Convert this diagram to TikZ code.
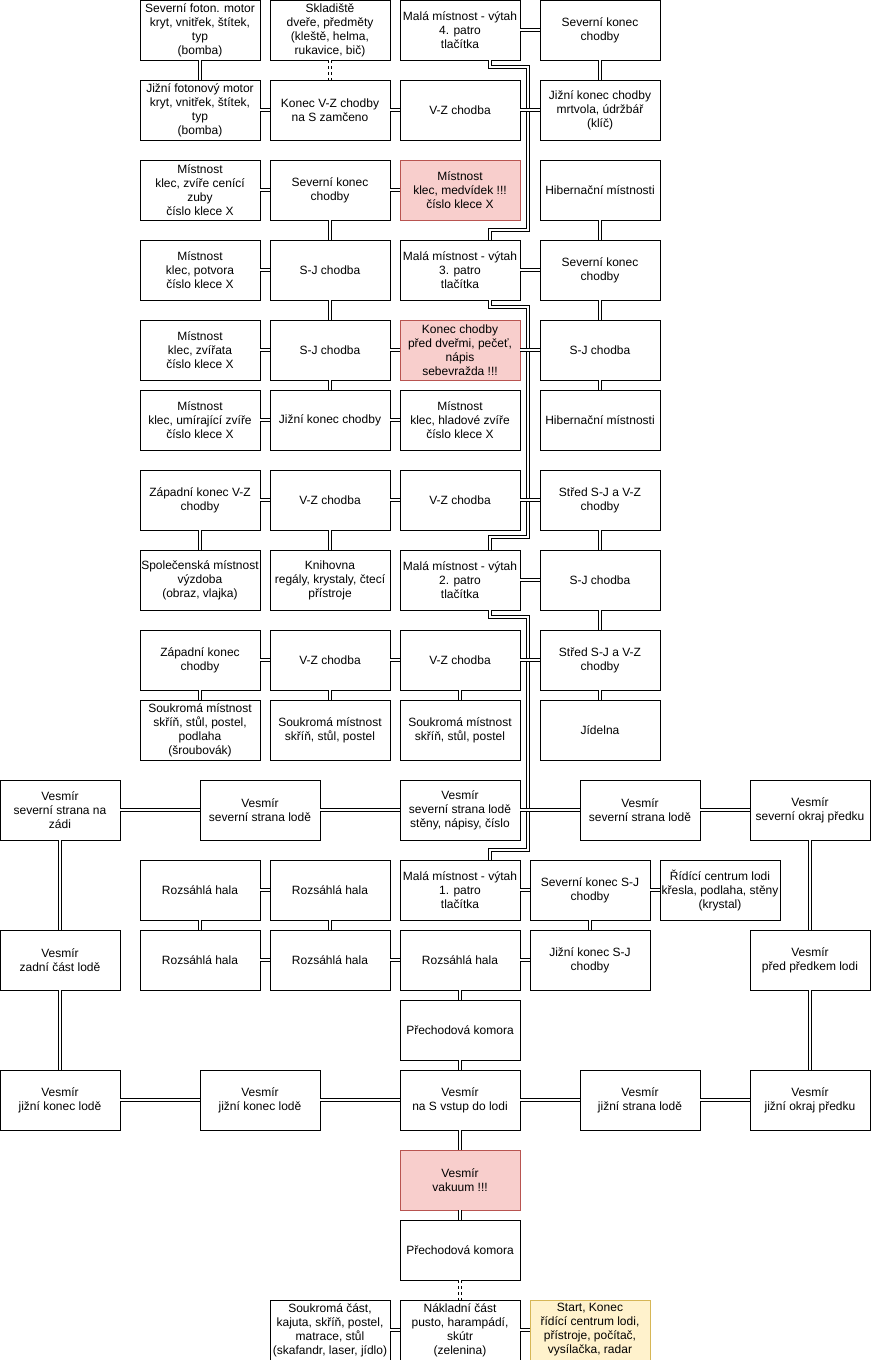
\documentclass[tikz,border=0pt]{standalone}
\usepackage{fontspec}
\setmainfont{Liberation Sans}
\usetikzlibrary{positioning}
\definecolor{alertfill}{HTML}{F8CECC}
\definecolor{alertdraw}{HTML}{B85450}
\definecolor{startfill}{HTML}{FFF2CC}
\definecolor{startdraw}{HTML}{D6B656}
\tikzset{
  room/.style={rectangle, draw=black, anchor=north west, outer sep=0pt, minimum width=120pt, minimum height=60pt, inner xsep=0pt, inner ysep=1pt, align=center, font=\fontsize{12}{14}\selectfont},
  alert/.style={room, draw=alertdraw, fill=alertfill},
  startbox/.style={room, draw=startdraw, fill=startfill},
  link/.style={double, double distance=2.6pt},
  hatch/.style={link, dash pattern=on 3pt off 3pt}
}

\begin{document}
\begin{tikzpicture}[x=1pt, y=-1pt, thick]
  \useasboundingbox (0,0) rectangle (871,1360);

  % Nodes: 4th floor
  \node[room] (motorN) at (140,0) {Severní foton. motor\\kryt, vnitřek, štítek,\\typ\\(bomba)};
  \node[room] (store) at (270,0) {Skladiště\\dveře, předměty\\(kleště, helma,\\rukavice, bič)};
  \node[room] (lift4) at (400,0) {Malá místnost - výtah\\4. patro\\tlačítka};
  \node[room] (north4) at (540,0) {Severní konec\\chodby};
  \node[room] (motorS) at (140,80) {Jižní fotonový motor\\kryt, vnitřek, štítek,\\typ\\(bomba)};
  \node[room] (gate4) at (270,80) {Konec V-Z chodby\\na S zamčeno};
  \node[room] (hall4) at (400,80) {V-Z chodba};
  \node[room] (south4) at (540,80) {Jižní konec chodby\\mrtvola, údržbář\\(klíč)};

  % Nodes: 3rd floor
  \node[room] (cageA) at (140,160) {Místnost\\klec, zvíře cenící\\zuby\\číslo klece X};
  \node[room] (north3w) at (270,160) {Severní konec\\chodby};
  \node[alert] (cageBear) at (400,160) {Místnost\\klec, medvídek !!!\\číslo klece X};
  \node[room] (hiber3) at (540,160) {Hibernační místnosti};
  \node[room] (cageB) at (140,240) {Místnost\\klec, potvora\\číslo klece X};
  \node[room] (sj3a) at (270,240) {S-J chodba};
  \node[room] (lift3) at (400,240) {Malá místnost - výtah\\3. patro\\tlačítka};
  \node[room] (north3e) at (540,240) {Severní konec\\chodby};
  \node[room] (cageC) at (140,320) {Místnost\\klec, zvířata\\číslo klece X};
  \node[room] (sj3b) at (270,320) {S-J chodba};
  \node[alert] (seal) at (400,320) {Konec chodby\\před dveřmi, pečeť,\\nápis\\sebevražda !!!};
  \node[room] (sj3e) at (540,320) {S-J chodba};
  \node[room] (cageD) at (140,390) {Místnost\\klec, umírající zvíře\\číslo klece X};
  \node[room] (south3w) at (270,390) {Jižní konec chodby};
  \node[room] (cageE) at (400,390) {Místnost\\klec, hladové zvíře\\číslo klece X};
  \node[room] (hiber3b) at (540,390) {Hibernační místnosti};

  % Nodes: 2nd floor
  \node[room] (west2a) at (140,470) {Západní konec V-Z\\chodby};
  \node[room] (vz2a) at (270,470) {V-Z chodba};
  \node[room] (vz2b) at (400,470) {V-Z chodba};
  \node[room] (mid2a) at (540,470) {Střed S-J a V-Z\\chodby};
  \node[room] (lounge) at (140,550) {Společenská místnost\\výzdoba\\(obraz, vlajka)};
  \node[room] (library) at (270,550) {Knihovna\\regály, krystaly, čtecí\\přístroje};
  \node[room] (lift2) at (400,550) {Malá místnost - výtah\\2. patro\\tlačítka};
  \node[room] (sj2) at (540,550) {S-J chodba};
  \node[room] (west2b) at (140,630) {Západní konec\\chodby};
  \node[room] (vz2c) at (270,630) {V-Z chodba};
  \node[room] (vz2d) at (400,630) {V-Z chodba};
  \node[room] (mid2b) at (540,630) {Střed S-J a V-Z\\chodby};
  \node[room] (priv2a) at (140,700) {Soukromá místnost\\skříň, stůl, postel,\\podlaha\\(šroubovák)};
  \node[room] (priv2b) at (270,700) {Soukromá místnost\\skříň, stůl, postel};
  \node[room] (priv2c) at (400,700) {Soukromá místnost\\skříň, stůl, postel};
  \node[room] (dining) at (540,700) {Jídelna};

  % Nodes: space around the ship
  \node[room] (spNW) at (0,780) {Vesmír\\severní strana na\\zádi};
  \node[room] (spN1) at (200,780) {Vesmír\\severní strana lodě};
  \node[room] (spN2) at (400,780) {Vesmír\\severní strana lodě\\stěny, nápisy, číslo};
  \node[room] (spN3) at (580,780) {Vesmír\\severní strana lodě};
  \node[room] (spNE) at (750,780) {Vesmír\\severní okraj předku};
  \node[room] (spW) at (0,930) {Vesmír\\zadní část lodě};
  \node[room] (spE) at (750,930) {Vesmír\\před předkem lodi};
  \node[room] (spSW) at (0,1070) {Vesmír\\jižní konec lodě};
  \node[room] (spS1) at (200,1070) {Vesmír\\jižní konec lodě};
  \node[room] (entry) at (400,1070) {Vesmír\\na S vstup do lodi};
  \node[room] (spS3) at (580,1070) {Vesmír\\jižní strana lodě};
  \node[room] (spSE) at (750,1070) {Vesmír\\jižní okraj předku};

  % Nodes: 1st floor
  \node[room] (hall1a) at (140,860) {Rozsáhlá hala};
  \node[room] (hall1b) at (270,860) {Rozsáhlá hala};
  \node[room] (lift1) at (400,860) {Malá místnost - výtah\\1. patro\\tlačítka};
  \node[room] (sjN) at (530,860) {Severní konec S-J\\chodby};
  \node[room] (bridge) at (660,860) {Řídící centrum lodi\\křesla, podlaha, stěny\\(krystal)};
  \node[room] (hall1c) at (140,930) {Rozsáhlá hala};
  \node[room] (hall1d) at (270,930) {Rozsáhlá hala};
  \node[room] (hall1e) at (400,930) {Rozsáhlá hala};
  \node[room] (sjS) at (530,930) {Jižní konec S-J\\chodby};
  \node[room] (lock1) at (400,1000) {Přechodová komora};
  \node[alert] (vacuum) at (400,1150) {Vesmír\\vakuum !!!};
  \node[room] (lock2) at (400,1220) {Přechodová komora};
  \node[room] (cabin) at (270,1300) {Soukromá část,\\kajuta, skříň, postel,\\matrace, stůl\\(skafandr, laser, jídlo)};
  \node[room] (cargo) at (400,1300) {Nákladní část\\pusto, harampádí,\\skútr\\(zelenina)};
  \node[startbox] (start) at (530,1300) {Start, Konec\\řídící centrum lodi,\\přístroje, počítač,\\vysílačka, radar};

  % Lift shaft
  \draw[link] ([xshift=30pt]lift4.south) -- ++(0,7) -| (528,230) -- ++(-38,0) -- ([xshift=30pt]lift3.north);
  \draw[link] ([xshift=30pt]lift3.south) -- ++(0,7) -| (528,537) -- ++(-38,0) -- ([xshift=30pt]lift2.north);
  \draw[link] ([xshift=30pt]lift2.south) -- ++(0,7) -| (528,850) -- ++(-38,0) -- ([xshift=30pt]lift1.north);

  % Links: 4th floor
  \draw[link] (motorN) -- (motorS);
  \draw[hatch] (store) -- (gate4);
  \draw[link] (motorS) -- (gate4);
  \draw[link] (gate4) -- (hall4);
  \draw[link] (hall4) -- (south4);
  \draw[link] (lift4) -- (north4);
  \draw[link] (north4) -- (south4);

  % Links: 3rd floor
  \draw[link] (cageA) -- (north3w);
  \draw[link] (north3w) -- (cageBear);
  \draw[link] (north3w) -- (sj3a);
  \draw[link] (cageB) -- (sj3a);
  \draw[link] (sj3a) -- (sj3b);
  \draw[link] (cageC) -- (sj3b);
  \draw[link] (sj3b) -- (seal);
  \draw[link] (sj3b) -- (south3w);
  \draw[link] (cageD) -- (south3w);
  \draw[link] (south3w) -- (cageE);
  \draw[link] (hiber3) -- (north3e);
  \draw[link] (lift3) -- (north3e);
  \draw[link] (north3e) -- (sj3e);
  \draw[link] (seal) -- (sj3e);
  \draw[link] (sj3e) -- (hiber3b);

  % Links: 2nd floor
  \draw[link] (west2a) -- (vz2a);
  \draw[link] (vz2a) -- (vz2b);
  \draw[link] (vz2b) -- (mid2a);
  \draw[link] (west2a) -- (lounge);
  \draw[link] (vz2a) -- (library);
  \draw[link] (mid2a) -- (sj2);
  \draw[link] (lift2) -- (sj2);
  \draw[link] (sj2) -- (mid2b);
  \draw[link] (west2b) -- (vz2c);
  \draw[link] (vz2c) -- (vz2d);
  \draw[link] (vz2d) -- (mid2b);
  \draw[link] (west2b) -- (priv2a);
  \draw[link] (vz2c) -- (priv2b);
  \draw[link] (vz2d) -- (priv2c);
  \draw[link] (mid2b) -- (dining);

  % Links: space
  \draw[link] (spNW) -- (spN1);
  \draw[link] (spN1) -- (spN2);
  \draw[link] (spN2) -- (spN3);
  \draw[link] (spN3) -- (spNE);
  \draw[link] (spNW) -- (spW);
  \draw[link] (spW) -- (spSW);
  \draw[link] (spNE) -- (spE);
  \draw[link] (spE) -- (spSE);
  \draw[link] (spSW) -- (spS1);
  \draw[link] (spS1) -- (entry);
  \draw[link] (entry) -- (spS3);
  \draw[link] (spS3) -- (spSE);

  % Links: 1st floor
  \draw[link] (hall1a) -- (hall1b);
  \draw[link] (hall1a) -- (hall1c);
  \draw[link] (hall1b) -- (hall1d);
  \draw[link] (hall1c) -- (hall1d);
  \draw[link] (hall1d) -- (hall1e);
  \draw[link] (lift1) -- (sjN);
  \draw[link] (sjN) -- (bridge);
  \draw[link] (sjN) -- (sjS);
  \draw[link] (hall1e) -- (sjS);
  \draw[link] (hall1e) -- (lock1);
  \draw[link] (lock1) -- (entry);
  \draw[link] (entry) -- (vacuum);
  \draw[link] (vacuum) -- (lock2);
  \draw[hatch] (lock2) -- (cargo);
  \draw[link] (cabin) -- (cargo);
  \draw[link] (cargo) -- (start);
\end{tikzpicture}
\end{document}
